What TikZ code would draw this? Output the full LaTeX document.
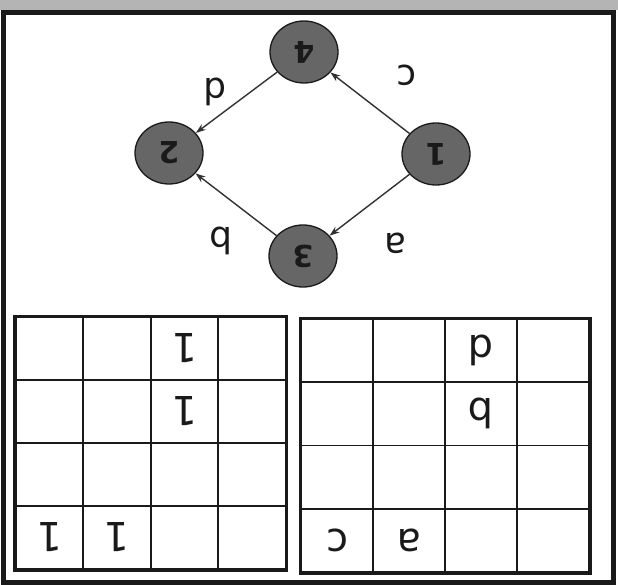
\documentclass[tikz,border=0pt]{standalone}
\usepackage{fontspec}
\setmainfont{DejaVu Sans}
\usetikzlibrary{arrows.meta,shapes.geometric,matrix}
\definecolor{ink}{HTML}{1A1A1A}
\definecolor{vertexfill}{HTML}{666666}
\definecolor{band}{HTML}{B4B4B4}
\tikzset{
  >=Stealth,
  vertex/.style={ellipse,draw=ink,line width=1.3pt,fill=vertexfill,minimum width=68pt,minimum height=62pt,inner sep=0pt,rotate=180,font=\fontsize{30}{32}\selectfont\bfseries,text=ink},
  link/.style={-{Stealth[length=10pt,width=7pt]},line width=1.4pt,draw=ink!90},
  elabel/.style={rotate=180,font=\fontsize{36}{40}\selectfont,text=ink,inner sep=0pt},
  cellbox/.style={draw=ink,line width=1.8pt,rotate=180,anchor=center,inner sep=0pt,font=\fontsize{40}{44}\selectfont,text=ink},
  cellgrid/.style={matrix of nodes,nodes in empty cells,inner sep=0pt,row sep=-1.8pt,column sep=-1.8pt},
  tableframe/.style={draw=ink,line width=2.8pt},
  outerframe/.style={draw=ink,line width=5pt},
}

\begin{document}
\begin{tikzpicture}[x=1pt,y=-1pt]
\useasboundingbox (0,0) rectangle (618,585);
\fill[band] (0,0) rectangle (618,10);
\draw[outerframe] (3,12.5) rectangle (613.5,582.5);

% graph, seen upside down
\node[vertex] (v4) at (304,52) {4};
\node[vertex] (v2) at (169,153) {2};
\node[vertex] (v1) at (436,154) {1};
\node[vertex] (v3) at (303,256) {3};

\draw[link] (v1) -- (v4);
\draw[link] (v4) -- (v2);
\draw[link] (v1) -- (v3);
\draw[link] (v3) -- (v2);

\node[elabel] (lc) at (407,75) {c};
\node[elabel] (ld) at (215,92) {d};
\node[elabel] (la) at (395,243) {a};
\node[elabel] (lb) at (221,241) {b};

% adjacency matrix
\matrix[cellgrid,nodes={cellbox,minimum width=67.5pt,minimum height=63pt}] (adj) at (150.8,443) {
  & & 1 & \\
  & & 1 & \\
  & & & \\
  1 & 1 & & \\
};
\draw[tableframe] (adj.north west) rectangle (adj.south east);

% label matrix
\matrix[cellgrid,nodes={cellbox,minimum width=71.9pt,minimum height=63.25pt}] (lab) at (445.25,445.5) {
  & & d & \\
  & & b & \\
  & & & \\
  c & a & & \\
};
\draw[tableframe] (lab.north west) rectangle (lab.south east);

\end{tikzpicture}
\end{document}
